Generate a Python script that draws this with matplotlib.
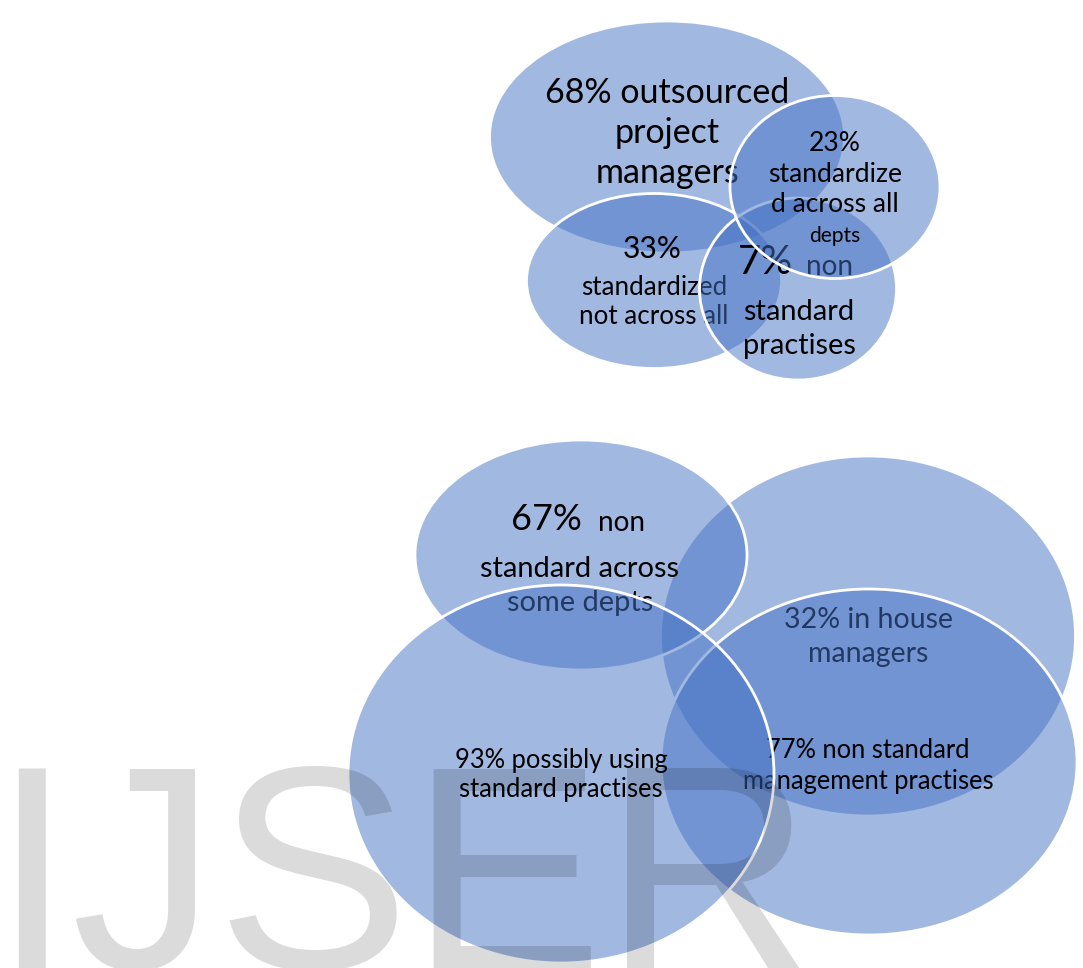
import matplotlib.pyplot as plt
from matplotlib.patches import Ellipse

# shapes: (label lines) and geometry in pixel coords of the 1083x968 canvas
top_labels = ["68% outsourced", "project", "managers"]
top_right_labels = ["23%", "standardize", "d across all", "depts"]
top_left_labels = ["33%", "standardized", "not across all"]
top_mid_labels = ["7%", "non", "standard", "practises"]

bot_top_labels = ["67%", "non", "standard across", "some depts"]
bot_right_labels = ["32% in house", "managers"]
bot_mid_labels = ["77% non standard", "management practises"]
bot_left_labels = ["93% possibly using", "standard practises"]

watermark = "IJSER"

FILL = (0x44 / 255, 0x72 / 255, 0xC4 / 255, 0.5)
PX = 0.72  # px -> pt at dpi 100
FONT = "Lato"


def main():
    fig = plt.figure(figsize=(10.83, 9.68), dpi=100)
    ax = fig.add_axes([0, 0, 1, 1])
    ax.set_xlim(0, 1083)
    ax.set_ylim(968, 0)
    ax.axis("off")

    z = [1]

    def shape(cx, cy, w, h):
        ax.add_patch(Ellipse((cx, cy), w, h, facecolor=FILL, edgecolor="white",
                             linewidth=2, zorder=z[0]))
        z[0] += 1

    def label(x, y, s, size, ha="center", ls=1.2):
        if isinstance(s, list):
            s = "\n".join(s)
        ax.text(x, y, s, fontsize=size * PX, family=FONT, ha=ha, va="center",
                multialignment="center", linespacing=ls,
                color="black", zorder=z[0])

    # ---- top group
    shape(667, 137, 355, 232)
    label(667, 133, top_labels, 34, ls=1.31)
    z[0] += 1

    shape(654, 281, 255, 175)
    label(652, 249, top_left_labels[0], 30)
    label(654, 302, top_left_labels[1:], 26, ls=1.2)
    z[0] += 1

    shape(798, 289, 197, 182)
    label(765, 262, top_mid_labels[0], 40)
    label(806, 267, top_mid_labels[1], 28, ha="left")
    label(799, 329, top_mid_labels[2:], 29, ls=1.34)
    z[0] += 1

    shape(835, 187, 210, 183)
    label(835, 174, top_right_labels[:3], 26.5, ls=1.27)
    label(835, 236, top_right_labels[3], 21)
    z[0] += 1

    # ---- bottom group
    shape(868, 636, 415, 360)
    label(868, 637, bot_right_labels, 28.5, ls=1.35)
    z[0] += 1

    shape(869, 762, 416, 346)
    label(868, 766, bot_mid_labels, 25.5, ls=1.28)
    z[0] += 1

    shape(581, 555, 332, 230)
    label(546, 520, bot_top_labels[0], 36)
    label(598, 523, bot_top_labels[1], 28, ha="left")
    label(580, 586, bot_top_labels[2:], 29, ls=1.4)
    z[0] += 1

    shape(561, 774, 426, 378)
    label(561, 775, bot_left_labels, 25.5, ls=1.21)
    z[0] += 1

    # watermark over everything
    ax.text(-9, 968, watermark, fontsize=290 * PX, family="Liberation Sans",
            ha="left", va="baseline", color=(0, 0, 0, 0.14), zorder=100)

    fig.savefig("out.png", dpi=100)


if __name__ == '__main__':
    main()
